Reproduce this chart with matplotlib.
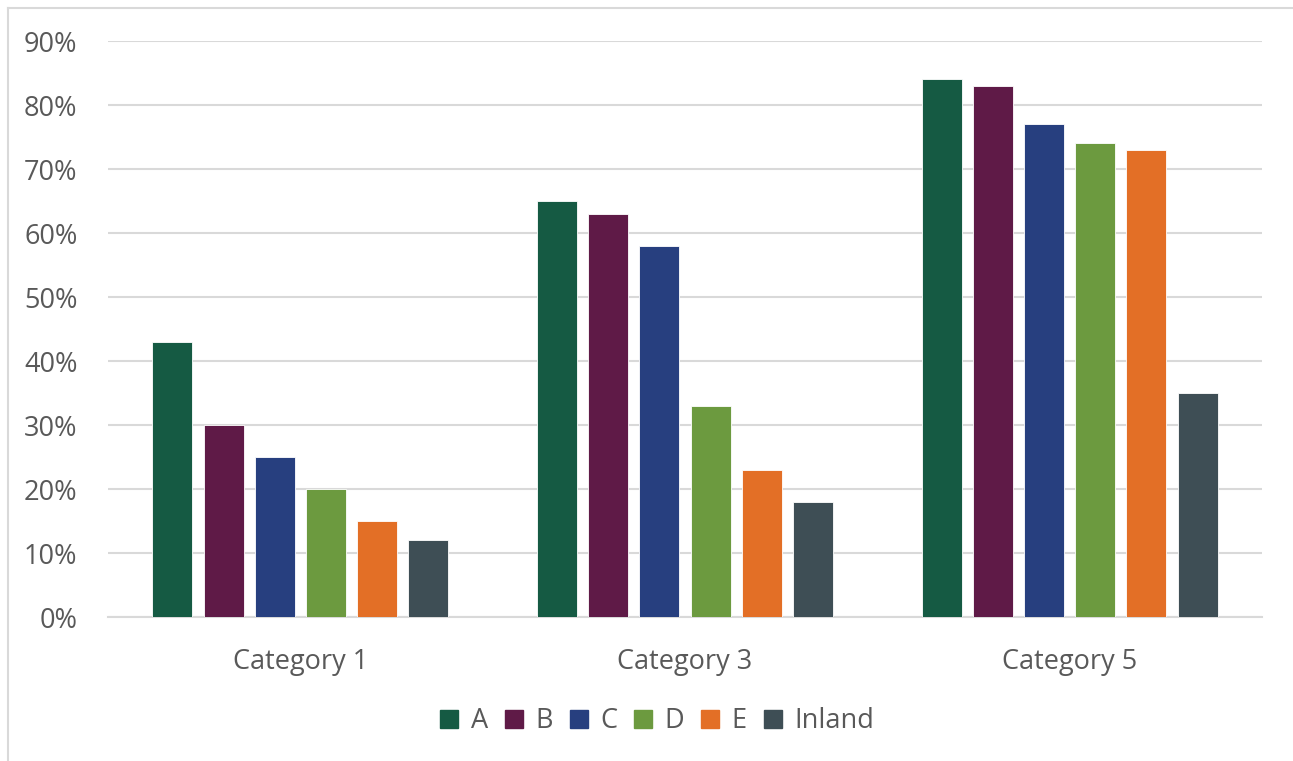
import numpy as np
import matplotlib
matplotlib.use("Agg")
import matplotlib.pyplot as plt
from matplotlib.lines import Line2D
from matplotlib.ticker import PercentFormatter

categories = ["Category 1", "Category 3", "Category 5"]
series = ["A", "B", "C", "D", "E", "Inland"]
values_a = [43, 65, 84]
values_b = [30, 63, 83]
values_c = [25, 58, 77]
values_d = [20, 33, 74]
values_e = [15, 23, 73]
values_inland = [12, 18, 35]
colors = ["#155A43", "#5F1A47", "#273F7F", "#6C9A3F", "#E36F26", "#3E4E55"]

all_values = [values_a, values_b, values_c, values_d, values_e, values_inland]

plt.rcParams["font.family"] = ["Open Sans", "DejaVu Sans"]
text_color = "#595959"
grid_color = "#D9D9D9"

W, H = 1293, 761
fig = plt.figure(figsize=(W / 100, H / 100), dpi=100)
ax = fig.add_axes([108 / W, 1 - 617 / H, (1262 - 108) / W, (617 - 41) / H])

x = np.arange(len(categories))
step = 0.133
width = 0.104
for j, (name, vals, col) in enumerate(zip(series, all_values, colors)):
    ax.bar(x + (j - 2.5) * step, vals, width, color=col, label=name,
           edgecolor="white", linewidth=0.6, zorder=3)

ax.set_xlim(-0.5, len(categories) - 0.5)
ax.set_ylim(0, 90)
ax.set_yticks(np.arange(0, 91, 10))
ax.yaxis.set_major_formatter(PercentFormatter(decimals=0))
ax.grid(axis="y", color=grid_color, linewidth=1.5, zorder=0)
ax.set_xticks(x)
ax.set_xticklabels(categories)
for s in ["top", "right", "left"]:
    ax.spines[s].set_visible(False)
ax.spines["bottom"].set_color(grid_color)
ax.spines["bottom"].set_linewidth(1.5)
ax.tick_params(axis="both", length=0, labelsize=19.5, colors=text_color)
ax.tick_params(axis="y", pad=22)
ax.tick_params(axis="x", pad=22)

handles = [Line2D([], [], marker="s", linestyle="none", markersize=13,
                  markerfacecolor=c, markeredgecolor=c) for c in colors]
fig.legend(handles, series, loc="center", bbox_to_anchor=(655 / W, 1 - 721 / H),
           ncol=6, frameon=False, fontsize=19.5, labelcolor=text_color,
           handletextpad=0.3, columnspacing=0.45, handlelength=1.0)

# light frame around the chart area
fig.add_artist(Line2D([8 / W, 8 / W], [0, 1 - 8 / H], color="#D9D9D9", linewidth=1.5))
fig.add_artist(Line2D([8 / W, 1], [1 - 8 / H, 1 - 8 / H], color="#D9D9D9", linewidth=1.5))

fig.savefig("out.png", dpi=100)
